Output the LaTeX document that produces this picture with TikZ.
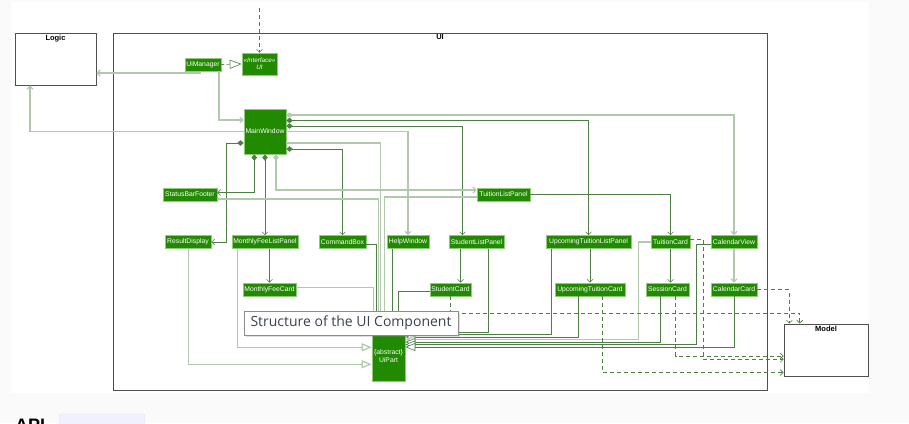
\documentclass[tikz,border=0pt]{standalone}
\usepackage{fontspec}
\setmainfont{Liberation Sans}
\newfontfamily\capfont{Open Sans}
\usetikzlibrary{arrows.meta, calc, shadows}

\definecolor{compgreen}{HTML}{218A00}
\definecolor{compedge}{HTML}{8FCB7A}
\definecolor{darkline}{HTML}{4E7E46}
\definecolor{lightline}{HTML}{B2C8AC}
\definecolor{boxedge}{HTML}{505050}
\definecolor{pagegrey}{HTML}{FAFAFA}
\definecolor{capgrey}{HTML}{3B4151}

\tikzset{
  comp/.style={draw=compedge, line width=0.6pt, fill=compgreen, text=white,
    font=\fontsize{6.8}{7.8}\selectfont, inner sep=0pt, minimum height=13pt},
  pkg/.style={draw=boxedge, line width=0.9pt, fill=white, inner sep=0pt},
  pkgtitle/.style={anchor=north, font=\bfseries\fontsize{7.5}{8.5}\selectfont, inner sep=2pt},
  dk/.style={draw=darkline, line width=0.6pt},
  lt/.style={draw=lightline, line width=1.2pt},
  assoc/.style={-{Straight Barb[length=3pt,width=6pt]}},
  inherit/.style={-{Triangle[open,length=10pt,width=8pt,fill=white]}},
  owns/.style={{Diamond[length=6.5pt,width=5.5pt]}-{Straight Barb[length=3pt,width=6pt]}},
  dep/.style={dash pattern=on 4pt off 3pt, assoc}
}

\begin{document}
\begin{tikzpicture}[x=1pt, y=-1pt]
    \useasboundingbox (0,0) rectangle (909,423);
    \fill[pagegrey] (0,0) rectangle (909,423);
    \fill[white] (11,2) rectangle (869,393);

    % packages
    \node[pkg, minimum width=81pt, minimum height=52pt, label={[pkgtitle]north:Logic}] (logic) at (55.5,59) {};
    \node[pkg, minimum width=654pt, minimum height=357pt, label={[pkgtitle]north:UI}] (ui) at (440,211.5) {};
    \node[pkg, minimum width=84pt, minimum height=52pt, label={[pkgtitle]north:Model}] (model) at (826,350) {};

    % components
    \node[comp, minimum width=36pt] (uimgr) at (203,64.5) {UiManager};
    \node[comp, minimum width=35pt, minimum height=22pt, align=center, font=\itshape\fontsize{6.3}{7.3}\selectfont] (iui) at (259.5,64) {«Interface»\\UI};
    \node[comp, minimum width=42pt, minimum height=45pt] (mainwin) at (265,131.5) {MainWindow};
    \node[comp, minimum width=54pt] (statusbar) at (190,194.5) {StatusBarFooter};
    \node[comp, minimum width=53pt] (tuitionlist) at (503.5,194.5) {TuitionListPanel};
    \node[comp, minimum width=46pt] (resultdisp) at (188,242) {ResultDisplay};
    \node[comp, minimum width=66pt] (monthlylist) at (265,242) {MonthlyFeeListPanel};
    \node[comp, minimum width=47pt] (cmdbox) at (342.5,242) {CommandBox};
    \node[comp, minimum width=42pt] (helpwin) at (408,242) {HelpWindow};
    \node[comp, minimum width=55pt] (studentlist) at (476.5,242) {StudentListPanel};
    \node[comp, minimum width=85pt] (upcominglist) at (588.5,242) {UpcomingTuitionListPanel};
    \node[comp, minimum width=39pt] (tuitioncard) at (670.5,242) {TuitionCard};
    \node[comp, minimum width=46pt] (calview) at (734,242) {CalendarView};
    \node[comp, minimum width=53pt] (monthlycard) at (269.5,289.5) {MonthlyFeeCard};
    \node[comp, minimum width=41pt] (studentcard) at (450.5,289.5) {StudentCard};
    \node[comp, minimum width=70pt] (upcomingcard) at (590,289.5) {UpcomingTuitionCard};
    \node[comp, minimum width=43pt] (sessioncard) at (667.5,289.5) {SessionCard};
    \node[comp, minimum width=46pt] (calcard) at (734,289.5) {CalendarCard};
    \node[comp, minimum width=33pt, minimum height=50pt, align=center] (uipart) at (388.5,356) {\{abstract\}\\UiPart};

    \coordinate (ext) at (259.5,8);

    % api of the UI
    \draw[dk, dep] (ext) -- (iui.north);
    \draw[dk, dash pattern=on 3pt off 2pt, -{Triangle[open,length=12pt,width=9pt,fill=white]}] (uimgr.east) -- (iui.west);
    \draw[lt, assoc] (uimgr.south -| 200.7,0) |- (logic.east |- 0,73);
    \draw[lt, assoc] (uimgr.south -| 219,0) |- (mainwin.west |- 0,120);
    \draw[lt, assoc] (mainwin.west) -| (logic.south -| 30,0);

    % parts of MainWindow
    \draw[lt, owns] (mainwin.east |- 0,115) -| (calview.north);
    \draw[dk, owns] (mainwin.east |- 0,120.5) -| (upcominglist.north);
    \draw[dk, owns] (mainwin.east |- 0,126) -| (studentlist.north -| 462.5,0);
    \draw[lt, assoc] (mainwin.east) -| (helpwin.north);
    \draw[dk, owns] (mainwin.east |- 0,149) -| (cmdbox.north);
    \draw[dk, owns] (mainwin.west |- 0,143) -| (226.7,242) -- (resultdisp.east);
    \draw[dk, owns] (mainwin.south -| 254.3,0) |- (statusbar.east |- 0,192.5);
    \draw[dk, owns] (mainwin.south) -- (monthlylist.north);
    \draw[lt, owns] (mainwin.south -| 276,0) |- (tuitionlist.west |- 0,190);

    % lists and cards
    \draw[dk, assoc] (tuitionlist.east) -| (tuitioncard.north);
    \draw[dk, assoc] (monthlylist.south -| monthlycard.north) -- (monthlycard.north);
    \draw[dk, assoc] (studentlist.south -| 460.5,0) -- (studentcard.north -| 460.5,0);
    \draw[dk, assoc] (upcominglist.south -| upcomingcard.north) -- (upcomingcard.north);
    \draw[dk, assoc] (tuitioncard.south) -- (sessioncard.north -| tuitioncard.south);
    \draw[lt, assoc] (calview.south) -- (calcard.north);

    % everything is a UiPart
    \draw[lt, inherit] (mainwin.east |- 0,143) -| (uipart.north -| 380.5,0);
    \draw[lt, inherit] (statusbar.east |- 0,199) -| (uipart.north -| 378.3,0);
    \draw[lt, inherit] (tuitionlist.west |- 0,197) -| (uipart.north -| 384.5,0);
    \draw[lt, inherit] (monthlycard.east |- 0,287.5) -| (uipart.north -| 373.5,0);
    \draw[dk, inherit] (cmdbox.east |- 0,244.5) -| (uipart.north -| 376.5,0);
    \draw[dk, inherit] (helpwin.south -| 392.3,0) -- (uipart.north -| 392.3,0);
    \draw[dk, inherit] (studentcard.west |- 0,291) -| (uipart.north -| 398.3,0);
    \draw[dk, inherit] (studentlist.south -| 488.3,0) |- (uipart.east |- 0,332);
    \draw[dk, inherit] (upcominglist.south -| 551.7,0) |- (uipart.east |- 0,334.5);
    \draw[dk, inherit] (upcomingcard.south -| 578.3,0) |- (uipart.east |- 0,337);
    \draw[lt, inherit] (tuitioncard.west) -| (638.7,339.5) -- (uipart.east |- 0,339.5);
    \draw[dk, inherit] (sessioncard.south -| 660.3,0) |- (uipart.east |- 0,342);
    \draw[dk, inherit] (calview.west |- 0,244.3) -| (696.7,344.5) -- (uipart.east |- 0,344.5);
    \draw[dk, inherit] (calcard.south) |- (uipart.east |- 0,347);
    \draw[lt, inherit] (monthlylist.south -| 237.3,0) |- (uipart.west |- 0,347.3);
    \draw[lt, inherit] (resultdisp.south -| 188.3,0) |- (uipart.west |- 0,364.3);

    % uses Model
    \draw[dk, dep] (studentcard.south) |- (799.7,313) -- (model.north -| 799.7,0);
    \draw[dk, dep] (calcard.east) -| (model.north -| 789.3,0);
    \draw[dk, dep] (sessioncard.south -| 675.7,0) |- (model.west |- 0,356);
    \draw[dk, dep] (tuitioncard.east |- 0,239.3) -| (703.3,359.3) -- (model.west |- 0,359.3);
    \draw[dk, dep] (upcomingcard.south -| 602.3,0) |- (model.west |- 0,372.5);

    % caption on top
    \node[draw=gray!90, fill=white, line width=0.9pt, drop shadow={shadow xshift=2pt, shadow yshift=-2pt, opacity=0.25},
          minimum width=214pt, minimum height=24pt, inner sep=0pt, text=capgrey, font=\capfont\fontsize{14}{16}\selectfont] (caption) at (351,323) {Structure of the UI Component};

    % page below
    \fill[blue!6, draw=gray!20, rounded corners=2pt] (59,414) rectangle (145,432);
    \node[anchor=north west, inner sep=0pt, font=\bfseries\fontsize{18}{20}\selectfont] (api) at (15,419) {API};
\end{tikzpicture}
\end{document}
